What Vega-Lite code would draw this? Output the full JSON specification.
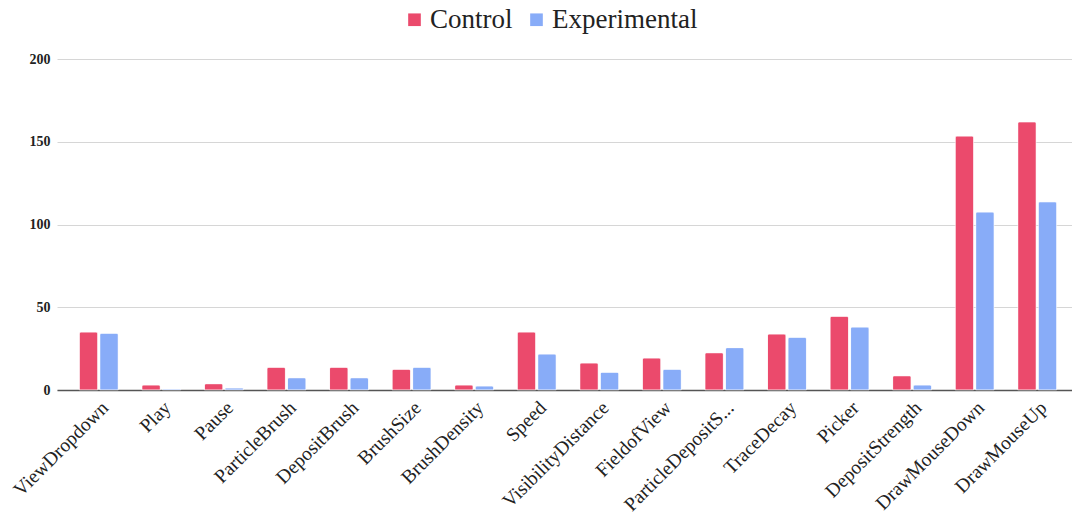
{
  "$schema": "https://vega.github.io/schema/vega-lite/v6.json",
  "autosize": {"type": "none"},
  "width": 1015,
  "height": 331,
  "padding": {"left": 57, "top": 59, "right": 0, "bottom": 131},
  "background": "#ffffff",
  "data": {
    "values": [
      {"category": "ViewDropdown", "group": "Control", "value": 35},
      {"category": "ViewDropdown", "group": "Experimental", "value": 34.3},
      {"category": "Play", "group": "Control", "value": 3},
      {"category": "Play", "group": "Experimental", "value": 0.6},
      {"category": "Pause", "group": "Control", "value": 3.8},
      {"category": "Pause", "group": "Experimental", "value": 1.2},
      {"category": "ParticleBrush", "group": "Control", "value": 13.7},
      {"category": "ParticleBrush", "group": "Experimental", "value": 7.4},
      {"category": "DepositBrush", "group": "Control", "value": 13.7},
      {"category": "DepositBrush", "group": "Experimental", "value": 7.4},
      {"category": "BrushSize", "group": "Control", "value": 12.5},
      {"category": "BrushSize", "group": "Experimental", "value": 13.7},
      {"category": "BrushDensity", "group": "Control", "value": 3},
      {"category": "BrushDensity", "group": "Experimental", "value": 2.4},
      {"category": "Speed", "group": "Control", "value": 35},
      {"category": "Speed", "group": "Experimental", "value": 21.7},
      {"category": "VisibilityDistance", "group": "Control", "value": 16.3},
      {"category": "VisibilityDistance", "group": "Experimental", "value": 10.7},
      {"category": "FieldofView", "group": "Control", "value": 19.3},
      {"category": "FieldofView", "group": "Experimental", "value": 12.5},
      {"category": "ParticleDepositS...", "group": "Control", "value": 22.5},
      {"category": "ParticleDepositS...", "group": "Experimental", "value": 25.6},
      {"category": "TraceDecay", "group": "Control", "value": 33.8},
      {"category": "TraceDecay", "group": "Experimental", "value": 31.8},
      {"category": "Picker", "group": "Control", "value": 44.5},
      {"category": "Picker", "group": "Experimental", "value": 38},
      {"category": "DepositStrength", "group": "Control", "value": 8.6},
      {"category": "DepositStrength", "group": "Experimental", "value": 3},
      {"category": "DrawMouseDown", "group": "Control", "value": 153.4},
      {"category": "DrawMouseDown", "group": "Experimental", "value": 107.5},
      {"category": "DrawMouseUp", "group": "Control", "value": 162},
      {"category": "DrawMouseUp", "group": "Experimental", "value": 113.7}
    ]
  },
  "mark": {
    "type": "bar",
    "cornerRadiusTopLeft": 2,
    "cornerRadiusTopRight": 2,
    "stroke": "#ffffff",
    "strokeWidth": 0.8,
    "strokeOpacity": 0.6
  },
  "encoding": {
    "x": {
      "field": "category",
      "type": "nominal",
      "sort": null,
      "scale": {"range": [0, 1022], "paddingInner": 0.377, "paddingOuter": 0.356},
      "axis": {
        "title": null,
        "labelAngle": -45,
        "labelFont": "Liberation Serif",
        "labelFontSize": 19.5,
        "labelColor": "#222222",
        "labelPadding": 8,
        "labelLimit": 300,
        "ticks": false,
        "domainColor": "#555555",
        "domainWidth": 1.5
      }
    },
    "xOffset": {
      "field": "group",
      "type": "nominal",
      "sort": ["Control", "Experimental"],
      "scale": {"paddingInner": 0.1}
    },
    "y": {
      "field": "value",
      "type": "quantitative",
      "scale": {"domain": [0, 200], "nice": false},
      "axis": {
        "title": null,
        "values": [0, 50, 100, 150, 200],
        "grid": true,
        "gridColor": "#d6d6d6",
        "domain": false,
        "ticks": false,
        "labelFont": "Liberation Serif",
        "labelFontSize": 14,
        "labelFontWeight": "bold",
        "labelColor": "#222222",
        "labelPadding": 7
      }
    },
    "color": {
      "field": "group",
      "type": "nominal",
      "sort": ["Control", "Experimental"],
      "scale": {"domain": ["Control", "Experimental"], "range": ["#EB4A6C", "#88ACF8"]},
      "legend": {
        "title": null,
        "orient": "none",
        "direction": "horizontal",
        "legendX": 344,
        "legendY": -53,
        "symbolType": "square",
        "symbolSize": 160,
        "symbolStrokeWidth": 0,
        "labelFont": "Liberation Serif",
        "labelFontSize": 27,
        "labelColor": "#222222",
        "labelOffset": 2,
        "columnPadding": 10
      }
    }
  },
  "config": {
    "view": {"stroke": null}
  }
}
